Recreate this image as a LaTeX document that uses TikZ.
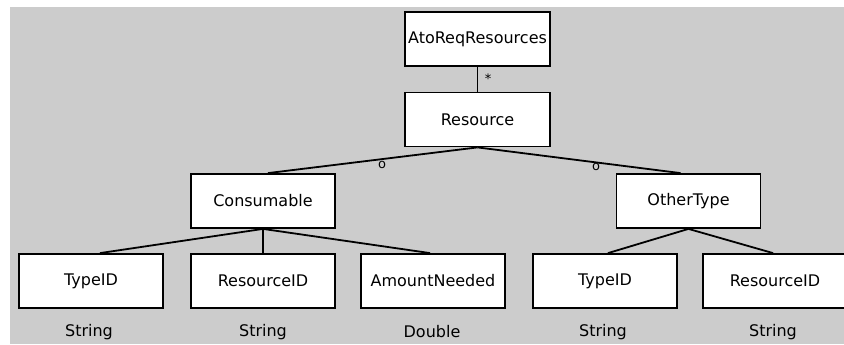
\documentclass[tikz,border=0pt]{standalone}
\usepackage{fontspec}
\setmainfont{DejaVu Sans}
\usetikzlibrary{calc}
\definecolor{bggray}{HTML}{CCCCCC}
\begin{document}
\begin{tikzpicture}[x=1pt,y=-1pt,
  box/.style={draw=black,fill=white,line width=1.8pt,minimum width=144pt,minimum height=54pt,inner sep=0pt,font=\fontsize{16}{18}\selectfont},
  typelbl/.style={font=\fontsize{16}{18}\selectfont,inner sep=0pt},
  mult/.style={font=\fontsize{13}{14}\selectfont,inner sep=0pt},
  conn/.style={line width=1.8pt,black}]
\useasboundingbox (0,0) rectangle (844,345);
\clip (0,0) rectangle (844,345);
\fill[white] (0,0) rectangle (844,345);
\fill[bggray] (10,7) rectangle (844,344);

\node[box,minimum width=145pt] (ato) at (477.5,39) {AtoReqResources};
\node[box,minimum width=145pt] (res) at (477.5,119.5) {Resource};
\node[box] (cons) at (263,201) {Consumable};
\node[box] (other) at (688.5,201) {OtherType};
\node[box] (t1) at (91,281) {TypeID};
\node[box] (r1) at (263,281) {ResourceID};
\node[box] (a1) at (433,281) {AmountNeeded};
\node[box] (t2) at (605,281) {TypeID};
\node[box] (r2) at (775,281) {ResourceID};

\node[typelbl] (s1) at (89,332) {String};
\node[typelbl] (s2) at (263,332) {String};
\node[typelbl] (s3) at (432,332) {Double};
\node[typelbl] (s4) at (603,332) {String};
\node[typelbl] (s5) at (773,332) {String};

\draw[conn] (ato.south) -- (res.north);
\draw[conn] (res.south) -- ($(cons.north)+(5,0)$);
\draw[conn] (res.south) -- ($(other.north)+(-8,0)$);
\draw[conn] (cons.south) -- ($(t1.north)+(9,0)$);
\draw[conn] (cons.south) -- (r1.north);
\draw[conn] (cons.south) -- ($(a1.north)+(-3,0)$);
\draw[conn] (other.south) -- ($(t2.north)+(3,0)$);
\draw[conn] (other.south) -- ($(r2.north)+(-2,0)$);

\node[mult] (m1) at (488,79) {*};
\node[mult] (m2) at (382,165) {o};
\node[mult] (m3) at (596,167) {o};
\end{tikzpicture}
\end{document}
